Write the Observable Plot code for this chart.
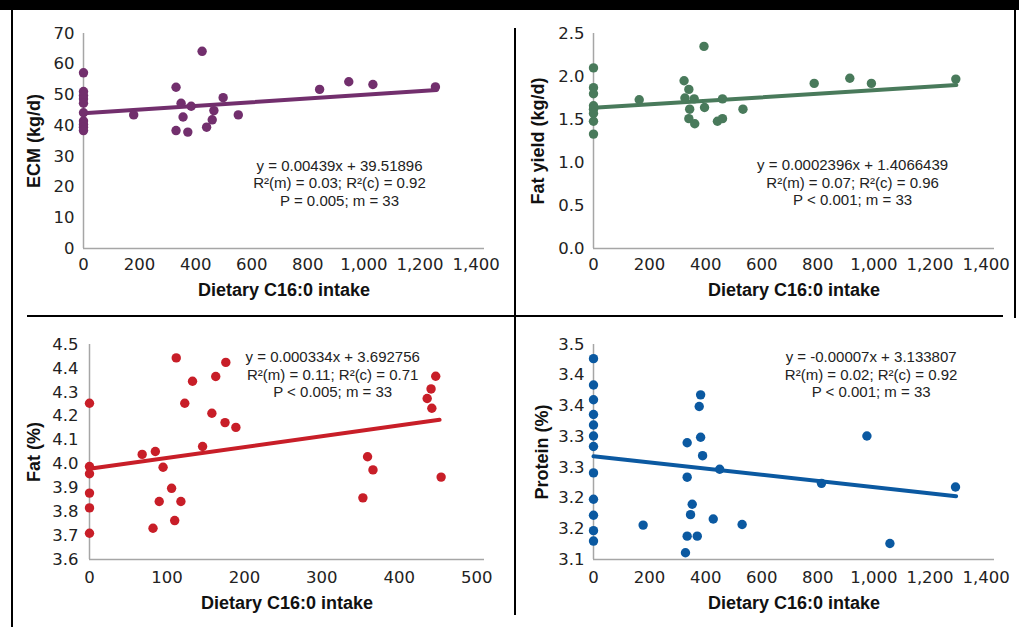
<!DOCTYPE html>
<html><head><meta charset="utf-8">
<script src="https://cdn.jsdelivr.net/npm/d3@7"></script>
<script src="https://cdn.jsdelivr.net/npm/@observablehq/plot@0.6"></script>
<style>
body{margin:0;background:#fff;}
#root{position:relative;width:1019px;height:627px;overflow:hidden;background:#fff;}
.panel{position:absolute;}
.panel svg g[aria-label$="tick label"] text{font-family:"DejaVu Sans",sans-serif !important;font-size:16.5px !important;}
.deco{position:absolute;background:#000;z-index:5;}
</style></head><body><div id="root"></div>
<script>
// ---------- shared ----------
const xTitle = "Dietary C16:0 intake";

// ---------- Panel A: ECM ----------
const ecmX = [0,0,0,0,0,0,0,0,0,0,179,330,330,348,355,372,384,423,439,459,465,498,552,842,946,1032,1255];
const ecmY = [57.2,51.1,49.8,48.7,47.3,44.2,41.5,40.4,39.5,38.4,43.5,52.5,38.4,47.3,42.8,37.9,46.3,64.2,39.5,41.9,44.9,49.1,43.5,51.8,54.3,53.4,52.6];
const ecmFitX = [0, 1260];
const ecmFitY = [44.0, 51.6];
const ecmYTicks = [0,10,20,30,40,50,60,70];
const ecmNote = "y = 0.00439x + 39.51896\nR²(m) = 0.03; R²(c) = 0.92\nP = 0.005; m = 33";

// ---------- Panel B: Fat yield ----------
const fyX = [0,0,0,0,0,0,0,0,163,323,326,340,343,340,359,361,394,396,442,460,460,533,787,914,991,1292];
const fyY = [2.10,1.87,1.80,1.66,1.62,1.57,1.48,1.33,1.73,1.95,1.75,1.85,1.62,1.51,1.74,1.45,2.35,1.64,1.48,1.51,1.74,1.62,1.92,1.98,1.92,1.97];
const fyFitX = [0, 1294];
const fyFitY = [1.636, 1.90];
const fyYTicks = [0,0.5,1.0,1.5,2.0,2.5];
const fyNote = "y = 0.0002396x + 1.4066439\nR²(m) = 0.07; R²(c) = 0.96\nP < 0.001; m = 33";

// ---------- Panel C: Fat % ----------
const fatX = [0,0,0,0,0,0,68,85,82,95,90,106,110,118,112,123,133,146,158,163,175,176,189,359,366,353,454,447,441,436,442];
const fatY = [4.254,3.989,3.959,3.878,3.816,3.710,4.040,4.052,3.731,3.986,3.843,3.898,3.763,3.843,4.444,4.254,4.346,4.073,4.212,4.366,4.173,4.425,4.153,4.030,3.975,3.858,3.945,4.367,4.314,4.274,4.233];
const fatFitX = [0, 452];
const fatFitY = [3.980, 4.185];
const fatYTicks = [3.6,3.7,3.8,3.9,4.0,4.1,4.2,4.3,4.4,4.5];
const fatXTicks = [0,100,200,300,400,500];
const fatNote = "y = 0.000334x + 3.692756\nR²(m) = 0.11; R²(c) = 0.71\nP < 0.005; m = 33";

// ---------- Panel D: Protein % ----------
const protX = [0,0,0,0,0,0,0,0,0,0,0,0,177,334,334,352,346,334,370,328,382,377,382,389,427,450,530,813,975,1057,1291];
const protY = [3.427,3.384,3.360,3.336,3.319,3.301,3.284,3.241,3.198,3.172,3.147,3.130,3.156,3.290,3.234,3.190,3.173,3.138,3.138,3.111,3.368,3.349,3.299,3.269,3.166,3.247,3.157,3.224,3.301,3.126,3.218];
const protFitX = [0, 1293];
const protFitY = [3.268, 3.203];
const protYTicks = [3.10,3.15,3.20,3.25,3.30,3.35,3.40,3.45];
const protYLabels = ["3.1","3.2","3.2","3.3","3.3","3.4","3.4","3.5"];
const protNote = "y = -0.00007x + 3.133807\nR²(m) = 0.02; R²(c) = 0.92\nP < 0.001; m = 33";

const wideXTicks = [0,200,400,600,800,1000,1200,1400];

function makePanel(o) {
  const pts = o.xs.map((x, i) => ({x, y: o.ys[i]}));
  const fit = o.fitX.map((x, i) => ({x, y: o.fitY[i]}));
  const axisColor = "#a6a6a6";
  return Plot.plot({
    width: o.width, height: o.height,
    marginLeft: o.m[0], marginRight: o.m[1], marginTop: o.m[2], marginBottom: o.m[3],
    style: {fontFamily: "DejaVu Sans", fontSize: "16px", color: "#222", background: "transparent"},
    x: {domain: o.xDomain, ticks: o.xTicks, tickSize: 0, tickPadding: o.xPad, tickFormat: d3.format(","), label: null},
    y: {domain: o.yDomain, ticks: o.yTicks, tickSize: 0, tickPadding: o.yPad, tickFormat: o.yFormat, label: null},
    marks: [
      Plot.ruleY([o.yDomain[0]], {stroke: axisColor, strokeWidth: 1.5}),
      Plot.ruleX([0], {stroke: axisColor, strokeWidth: 1.5}),
      Plot.line(fit, {x: "x", y: "y", stroke: o.color, strokeWidth: 4}),
      Plot.dot(pts, {x: "x", y: "y", r: 4.7, fill: o.color}),
      Plot.text([o.note], {x: () => o.noteX, y: () => o.noteY, text: d => d, textAnchor: "middle", lineAnchor: "middle", lineHeight: 1.17,
        fontFamily: "Liberation Sans", fontSize: 15, fill: "#222"}),
      Plot.text([o.yTitle], {frameAnchor: "left", rotate: -90, dx: o.yTitleDx, text: d => d, textAnchor: "middle", lineAnchor: "middle",
        fontFamily: "Liberation Sans", fontWeight: "bold", fontSize: 18, fill: "#111"}),
      Plot.text([xTitle], {frameAnchor: "bottom", dy: o.xTitleDy, text: d => d, textAnchor: "middle", lineAnchor: "middle",
        fontFamily: "Liberation Sans", fontWeight: "bold", fontSize: 18, fill: "#111"})
    ]
  });
}

const root = document.getElementById("root");
function place(svg, left, top) {
  const d = document.createElement("div");
  d.className = "panel";
  d.style.left = left + "px"; d.style.top = top + "px";
  d.appendChild(svg);
  root.appendChild(d);
}

const oneDec = d3.format(".1f");
const protMap = new Map(protYTicks.map((v, i) => [v.toFixed(2), protYLabels[i]]));

place(makePanel({
  xs: ecmX, ys: ecmY, fitX: ecmFitX, fitY: ecmFitY, color: "#722f6d",
  width: 510, height: 316, m: [83, 26, 33, 68],
  xDomain: [0, 1430], xTicks: wideXTicks, yDomain: [0, 70], yTicks: ecmYTicks, yFormat: d3.format("d"),
  xPad: 10, yPad: 9, note: ecmNote, noteX: 913, noteY: 21.5, yTitle: "ECM (kg/d)", yTitleDx: -49, xTitleDy: 42
}), 0, 0);

place(makePanel({
  xs: fyX, ys: fyY, fitX: fyFitX, fitY: fyFitY, color: "#497a5b",
  width: 509, height: 316, m: [83, 25, 33, 68],
  xDomain: [0, 1430], xTicks: wideXTicks, yDomain: [0, 2.5], yTicks: fyYTicks, yFormat: oneDec,
  xPad: 10, yPad: 9, note: fyNote, noteX: 924, noteY: 0.771, yTitle: "Fat yield (kg/d)", yTitleDx: -55, xTitleDy: 42
}), 510, 0);

place(makePanel({
  xs: fatX, ys: fatY, fitX: fatFitX, fitY: fatFitY, color: "#c81e28",
  width: 510, height: 311, m: [89, 26, 28, 68],
  xDomain: [0, 510], xTicks: fatXTicks, yDomain: [3.6, 4.5], yTicks: fatYTicks, yFormat: oneDec,
  xPad: 12, yPad: 11, note: fatNote, noteX: 314, noteY: 4.377, yTitle: "Fat (%)", yTitleDx: -55, xTitleDy: 44
}), 0, 316);

place(makePanel({
  xs: protX, ys: protY, fitX: protFitX, fitY: protFitY, color: "#0b59a1",
  width: 509, height: 311, m: [83, 25, 28, 68],
  xDomain: [0, 1430], xTicks: wideXTicks, yDomain: [3.10, 3.45], yTicks: protYTicks, yFormat: d => protMap.get(d.toFixed(2)),
  xPad: 12, yPad: 9, note: protNote, noteX: 990, noteY: 3.402, yTitle: "Protein (%)", yTitleDx: -51, xTitleDy: 44
}), 510, 316);

// frame decorations
function deco(l, t, w, h) {
  const d = document.createElement("div");
  d.className = "deco";
  Object.assign(d.style, {left: l + "px", top: t + "px", width: w + "px", height: h + "px"});
  root.appendChild(d);
}
deco(0, 0, 1019, 10);
deco(11, 10, 2, 617);
deco(1014, 10, 2, 308);
deco(27, 315, 976, 1.5);
deco(514, 28, 1.5, 587);
</script></body></html>
